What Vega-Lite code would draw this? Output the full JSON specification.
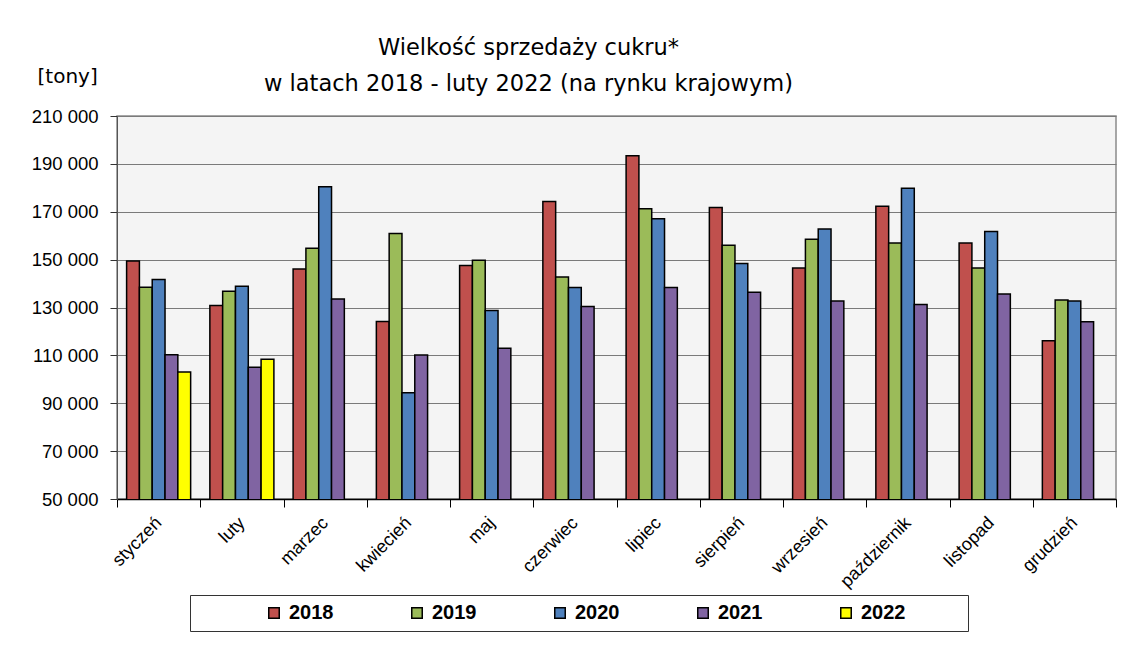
{
  "$schema": "https://vega.github.io/schema/vega-lite/v6.json",
  "width": 999,
  "height": 383,
  "autosize": {"type": "none"},
  "padding": {"left": 117, "top": 116, "right": 16, "bottom": 147},
  "background": "white",
  "title": {
    "text": ["Wielkość sprzedaży cukru*", "w latach 2018 - luty 2022 (na rynku krajowym)"],
    "font": "DejaVu Sans",
    "fontSize": 22.5,
    "fontWeight": "normal",
    "color": "black",
    "anchor": "middle",
    "dx": -88,
    "lineHeight": 36,
    "baseline": "alphabetic",
    "offset": -47
  },
  "config": {
    "view": {"fill": "#f4f4f4", "stroke": "#8a8a8a", "strokeWidth": 1.5},
    "axis": {"labelFont": "Liberation Sans", "titleFont": "Liberation Sans", "labelColor": "black"}
  },
  "data": {
    "values": [
      {"m": "styczeń", "y": "2018", "v": 149400},
      {"m": "styczeń", "y": "2019", "v": 138500},
      {"m": "styczeń", "y": "2020", "v": 141700},
      {"m": "styczeń", "y": "2021", "v": 110300},
      {"m": "styczeń", "y": "2022", "v": 103100},
      {"m": "luty", "y": "2018", "v": 130800},
      {"m": "luty", "y": "2019", "v": 136800},
      {"m": "luty", "y": "2020", "v": 138900},
      {"m": "luty", "y": "2021", "v": 105000},
      {"m": "luty", "y": "2022", "v": 108400},
      {"m": "marzec", "y": "2018", "v": 146100},
      {"m": "marzec", "y": "2019", "v": 154700},
      {"m": "marzec", "y": "2020", "v": 180400},
      {"m": "marzec", "y": "2021", "v": 133600},
      {"m": "kwiecień", "y": "2018", "v": 124100},
      {"m": "kwiecień", "y": "2019", "v": 160900},
      {"m": "kwiecień", "y": "2020", "v": 94400},
      {"m": "kwiecień", "y": "2021", "v": 110200},
      {"m": "maj", "y": "2018", "v": 147500},
      {"m": "maj", "y": "2019", "v": 149700},
      {"m": "maj", "y": "2020", "v": 128700},
      {"m": "maj", "y": "2021", "v": 113000},
      {"m": "czerwiec", "y": "2018", "v": 174300},
      {"m": "czerwiec", "y": "2019", "v": 142700},
      {"m": "czerwiec", "y": "2020", "v": 138400},
      {"m": "czerwiec", "y": "2021", "v": 130400},
      {"m": "lipiec", "y": "2018", "v": 193400},
      {"m": "lipiec", "y": "2019", "v": 171300},
      {"m": "lipiec", "y": "2020", "v": 167100},
      {"m": "lipiec", "y": "2021", "v": 138400},
      {"m": "sierpień", "y": "2018", "v": 171800},
      {"m": "sierpień", "y": "2019", "v": 156000},
      {"m": "sierpień", "y": "2020", "v": 148400},
      {"m": "sierpień", "y": "2021", "v": 136400},
      {"m": "wrzesień", "y": "2018", "v": 146500},
      {"m": "wrzesień", "y": "2019", "v": 158500},
      {"m": "wrzesień", "y": "2020", "v": 162800},
      {"m": "wrzesień", "y": "2021", "v": 132700},
      {"m": "październik", "y": "2018", "v": 172300},
      {"m": "październik", "y": "2019", "v": 156900},
      {"m": "październik", "y": "2020", "v": 179800},
      {"m": "październik", "y": "2021", "v": 131300},
      {"m": "listopad", "y": "2018", "v": 156900},
      {"m": "listopad", "y": "2019", "v": 146500},
      {"m": "listopad", "y": "2020", "v": 161800},
      {"m": "listopad", "y": "2021", "v": 135600},
      {"m": "grudzień", "y": "2018", "v": 116100},
      {"m": "grudzień", "y": "2019", "v": 133100},
      {"m": "grudzień", "y": "2020", "v": 132700},
      {"m": "grudzień", "y": "2021", "v": 124000}
    ]
  },
  "mark": {"type": "bar", "stroke": "black", "strokeWidth": 1.5, "clip": true},
  "encoding": {
    "x": {
      "field": "m",
      "type": "nominal",
      "sort": ["styczeń", "luty", "marzec", "kwiecień", "maj", "czerwiec", "lipiec", "sierpień", "wrzesień", "październik", "listopad", "grudzień"],
      "scale": {"paddingInner": 0, "paddingOuter": 0},
      "axis": {
        "title": null,
        "labelAngle": -45,
        "labelAlign": "right",
        "labelBaseline": "middle",
        "labelFontSize": 18,
        "labelPadding": 13,
        "tickBand": "extent",
        "tickSize": 8,
        "tickColor": "black",
        "domainColor": "black",
        "domainWidth": 1.5,
        "grid": false
      }
    },
    "xOffset": {
      "field": "y",
      "type": "nominal",
      "scale": {"domain": ["2018", "2019", "2020", "2021", "2022"], "paddingInner": 0, "paddingOuter": 0.75}
    },
    "y": {
      "field": "v",
      "type": "quantitative",
      "scale": {"domain": [50000, 210000], "nice": false, "zero": false},
      "axis": {
        "title": "[tony]",
        "titleAngle": 0,
        "titleAlign": "left",
        "titleBaseline": "alphabetic",
        "titleX": -80,
        "titleY": -34,
        "titleFont": "DejaVu Sans",
        "titleFontSize": 20,
        "titleFontWeight": "normal",
        "titleColor": "black",
        "values": [50000, 70000, 90000, 110000, 130000, 150000, 170000, 190000, 210000],
        "labelExpr": "replace(format(datum.value, ','), ',', ' ')",
        "labelFontSize": 18.5,
        "labelPadding": 12,
        "tickSize": 7,
        "tickColor": "#333",
        "domainColor": "#555",
        "gridColor": "#7a7a7a",
        "gridWidth": 1.2
      }
    },
    "color": {
      "field": "y",
      "type": "nominal",
      "scale": {"domain": ["2018", "2019", "2020", "2021", "2022"], "range": ["#C0504D", "#9BBB59", "#4F81BD", "#8064A2", "#FFFF00"]},
      "legend": {
        "title": " ",
        "titleOrient": "right",
        "titlePadding": 55,
        "orient": "none",
        "legendX": 73,
        "legendY": 479,
        "direction": "horizontal",
        "columns": 5,
        "columnPadding": 7,
        "symbolType": "square",
        "symbolSize": 110,
        "symbolStrokeColor": "black",
        "symbolStrokeWidth": 1.5,
        "symbolOffset": 66,
        "labelFont": "Liberation Sans",
        "labelFontSize": 20,
        "labelFontWeight": "bold",
        "labelColor": "black",
        "labelOffset": 5,
        "padding": 8,
        "strokeColor": "#333",
        "fillColor": "#ffffff"
      }
    }
  }
}
